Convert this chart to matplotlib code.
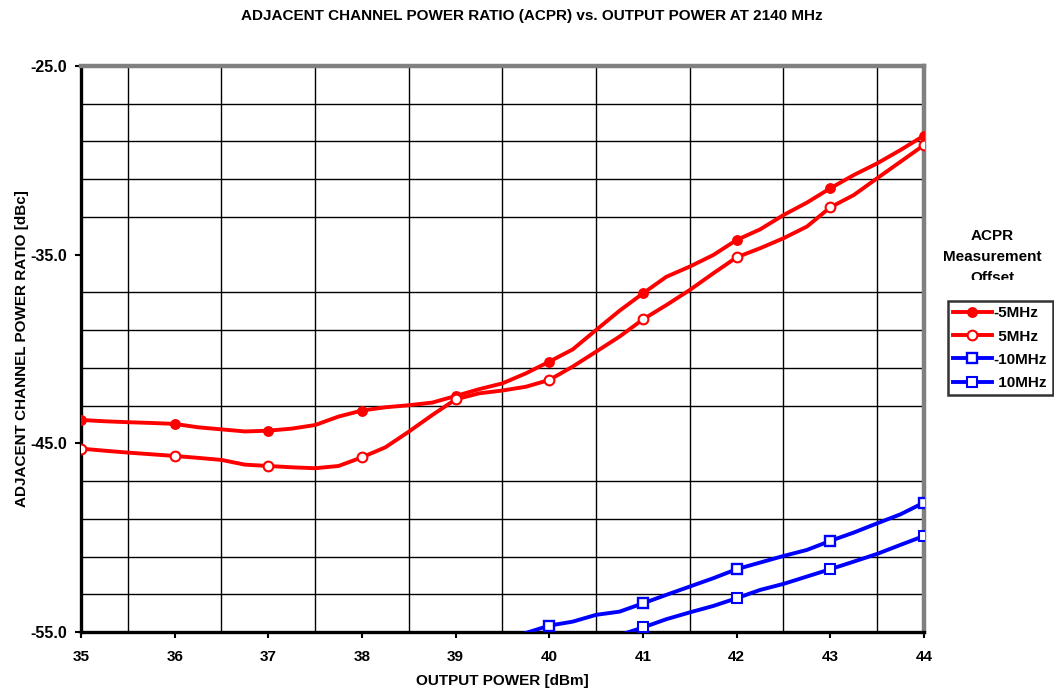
import matplotlib
matplotlib.use("Agg")
import matplotlib.pyplot as plt
from matplotlib.transforms import Bbox
from matplotlib.lines import Line2D

plt.rcParams['font.family'] = ['Liberation Sans', 'DejaVu Sans']

# ---- data ----
x_red = [35.0, 35.25, 35.5, 35.75, 36.0, 36.25, 36.5, 36.75, 37.0, 37.25, 37.5, 37.75,
         38.0, 38.25, 38.5, 38.75, 39.0, 39.25, 39.5, 39.75, 40.0, 40.25, 40.5, 40.75,
         41.0, 41.25, 41.5, 41.75, 42.0, 42.25, 42.5, 42.75, 43.0, 43.25, 43.5, 43.75, 44.0]
acpr_m5 = [-43.76, -43.83, -43.88, -43.92, -43.97, -44.15, -44.26, -44.37, -44.33, -44.22,
           -44.03, -43.58, -43.26, -43.09, -42.98, -42.84, -42.49, -42.13, -41.82, -41.29,
           -40.67, -40.02, -38.99, -37.97, -37.05, -36.17, -35.63, -35.02, -34.22, -33.66,
           -32.90, -32.24, -31.48, -30.78, -30.16, -29.45, -28.69]
acpr_p5 = [-45.28, -45.39, -45.49, -45.58, -45.67, -45.77, -45.88, -46.13, -46.20, -46.27,
           -46.32, -46.20, -45.74, -45.21, -44.38, -43.50, -42.67, -42.35, -42.20, -42.00,
           -41.64, -40.93, -40.14, -39.34, -38.43, -37.67, -36.87, -35.99, -35.14, -34.66,
           -34.13, -33.51, -32.49, -31.84, -30.95, -30.07, -29.19]

x_m10 = [39.5, 39.75, 40.0, 40.25, 40.5, 40.75, 41.0, 41.25, 41.5, 41.75, 42.0, 42.25,
         42.5, 42.75, 43.0, 43.25, 43.5, 43.75, 44.0]
acpr_m10 = [-55.45, -55.05, -54.66, -54.45, -54.09, -53.92, -53.48, -53.03, -52.59, -52.15,
            -51.67, -51.32, -50.97, -50.65, -50.17, -49.73, -49.24, -48.76, -48.14]
x_p10 = [40.5, 40.75, 41.0, 41.25, 41.5, 41.75, 42.0, 42.25, 42.5, 42.75, 43.0, 43.25,
         43.5, 43.75, 44.0]
acpr_p10 = [-55.56, -55.16, -54.76, -54.32, -53.96, -53.62, -53.21, -52.77, -52.45, -52.06,
            -51.67, -51.27, -50.86, -50.38, -49.91]

labels = ['-5MHz', '5MHz', '-10MHz', '10MHz']
x_ticks = [35, 36, 37, 38, 39, 40, 41, 42, 43, 44]
y_ticks = [-55.0, -45.0, -35.0, -25.0]

RED = '#FF0000'
BLUE = '#0000FF'
FS = 11

fig = plt.figure(figsize=(10.54, 6.98), dpi=100)
W, H = 1054, 698
ax = fig.add_axes([81 / W, 1 - 632 / H, (924 - 81) / W, (632 - 66) / H])

lw = 2.8
st_m5 = dict(color=RED, lw=lw, marker='o', ms=6.8, mfc=RED, mec=RED)
st_p5 = dict(color=RED, lw=lw, marker='o', ms=7.0, mfc='white', mec=RED, mew=1.5)
st_m10 = dict(color=BLUE, lw=lw, marker='s', ms=6.5, mfc='white', mec=BLUE, mew=1.7)
st_p10 = dict(color=BLUE, lw=lw, marker='s', ms=6.5, mfc='white', mec=BLUE, mew=1.5)

ax.plot(x_red, acpr_m5, markevery=4, label=labels[0], zorder=4, **st_m5)
ax.plot(x_red, acpr_p5, markevery=4, label=labels[1], zorder=4, **st_p5)
ax.plot(x_m10, acpr_m10, markevery=(2, 4), label=labels[2], zorder=4, **st_m10)
ax.plot(x_p10, acpr_p10, markevery=(2, 4), label=labels[3], zorder=4, **st_p10)

ax.set_xlim(35, 44)
ax.set_ylim(-55, -25)
ax.set_xticks(x_ticks)
ax.set_xticklabels([str(v) for v in x_ticks], fontsize=FS, fontweight='bold')
ax.set_yticks(y_ticks)
ax.set_yticklabels([f'{v:.1f}' for v in y_ticks], fontsize=FS + 0.5, fontweight='bold')
ax.set_xticks([35 + 0.5 * i for i in range(19)], minor=True)
ax.set_yticks([-55 + 2 * i for i in range(16)], minor=True)
ax.tick_params(axis='both', which='major', direction='out', length=4, width=1.5,
               color='black')
ax.tick_params(axis='y', which='major', pad=6)
ax.tick_params(axis='x', which='major', pad=9)
ax.tick_params(axis='both', which='minor', length=0)
ax.grid(True, which='minor', color='black', lw=1.0)
ax.grid(False, which='major')
ax.set_axisbelow(True)

for s in ['left', 'bottom']:
    ax.spines[s].set_color('black')
    ax.spines[s].set_linewidth(2.4)
for s in ['top', 'right']:
    ax.spines[s].set_color('#808080')
    ax.spines[s].set_linewidth(3.2)

ax.set_xlabel('OUTPUT POWER [dBm]', fontsize=FS, fontweight='bold', labelpad=7)
ax.set_ylabel('ADJACENT CHANNEL POWER RATIO [dBc]', fontsize=FS, fontweight='bold',
              labelpad=1)

fig.text(532 / W, 1 - 16 / H, 'ADJACENT CHANNEL POWER RATIO (ACPR) vs. OUTPUT POWER AT 2140 MHz',
         ha='center', va='center', fontsize=FS, fontweight='bold')

# legend title (bottom line cut off as in the reference)
t = fig.text(992 / W, 1 - 257 / H, 'ACPR\nMeasurement\nOffset', ha='center', va='center',
             fontsize=FS, fontweight='bold', linespacing=1.6)
t.set_clip_on(True)
t.set_clip_box(Bbox.from_extents(930, H - 280, W, H - 220))

handles = [Line2D([], [], **st_m5), Line2D([], [], **st_p5),
           Line2D([], [], **st_m10), Line2D([], [], **st_p10)]
leg_labels = ['-5MHz', ' 5MHz', '-10MHz', ' 10MHz']
leg = fig.legend(handles, leg_labels, loc='upper left',
                 bbox_to_anchor=(948 / W, 1 - 301 / H), bbox_transform=fig.transFigure,
                 prop={'weight': 'bold', 'size': FS}, frameon=True, fancybox=False,
                 edgecolor='black', handlelength=2.5, handletextpad=0.15,
                 labelspacing=0.6, borderpad=0.35, borderaxespad=0)
leg.get_frame().set_linewidth(1.8)

fig.savefig('out.png', dpi=100)
